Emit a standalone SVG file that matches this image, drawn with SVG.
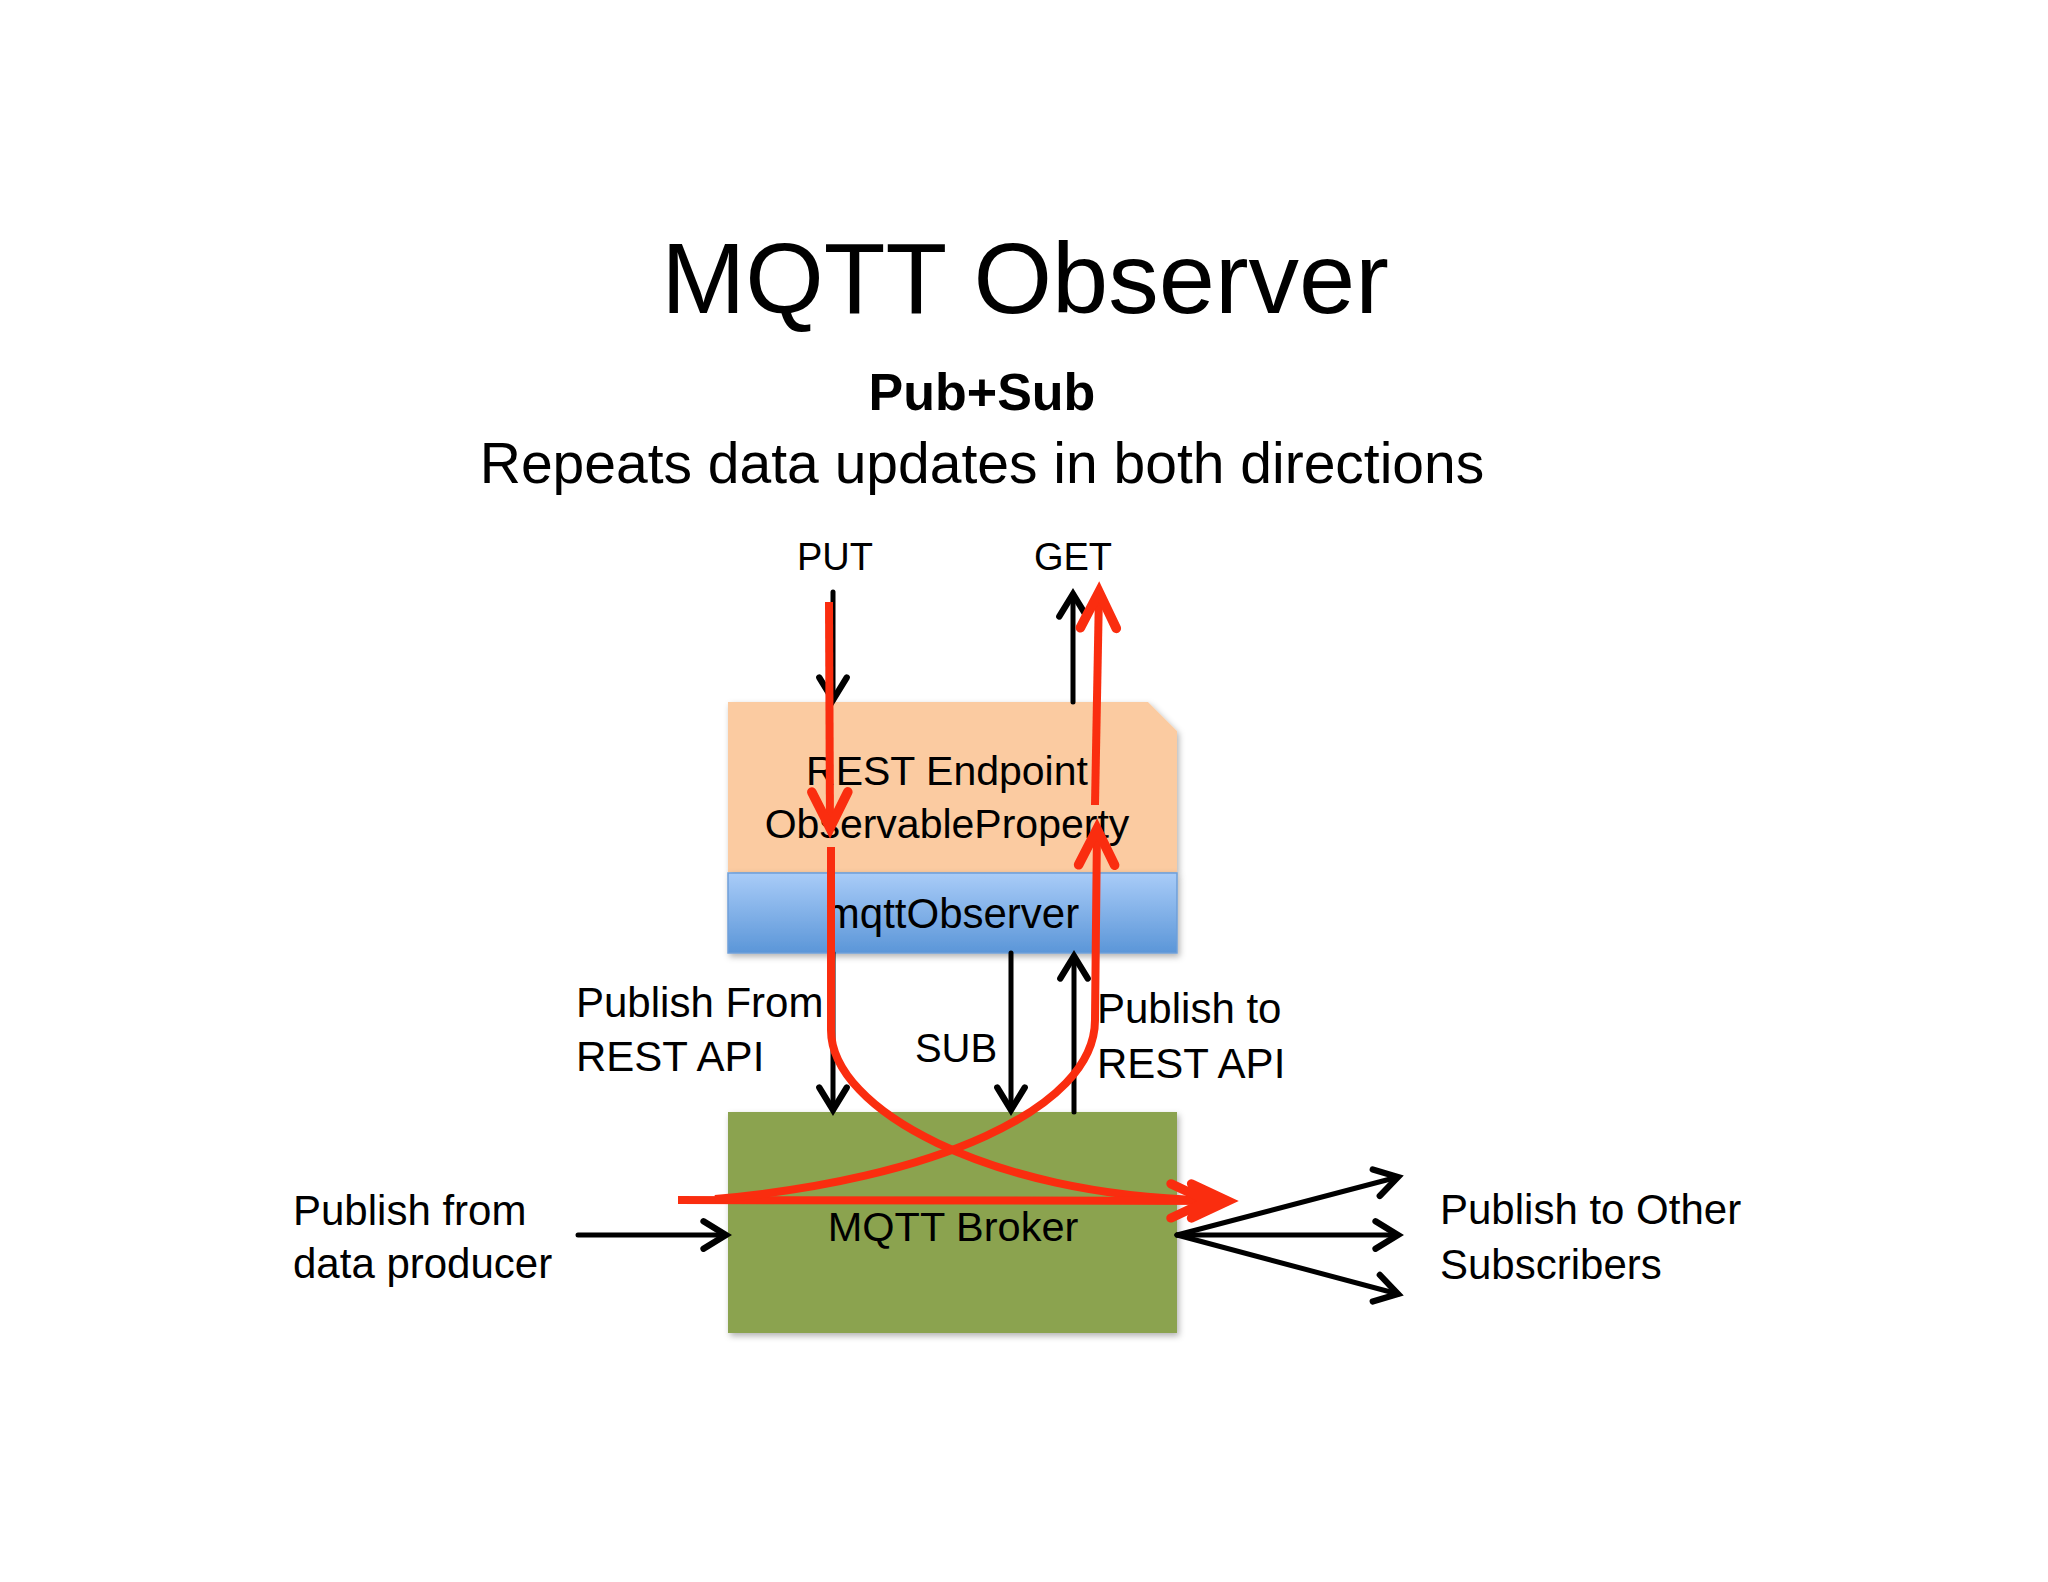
<svg xmlns="http://www.w3.org/2000/svg" width="2048" height="1582" viewBox="0 0 2048 1582">
<defs>
<style>
text{font-family:"Liberation Sans",Arial,sans-serif;fill:#000}
.blk{fill:none;stroke:#000;stroke-width:5;stroke-linecap:round}
.red{fill:none;stroke:#fa2d0f;stroke-width:8;stroke-linecap:butt;stroke-linejoin:round}
</style>
<linearGradient id="blueG" x1="0" y1="0" x2="0" y2="1">
<stop offset="0" stop-color="#a9ccf8"/>
<stop offset="1" stop-color="#5b96d8"/>
</linearGradient>
<filter id="sh" x="-10%" y="-10%" width="130%" height="130%">
<feDropShadow dx="2" dy="3" stdDeviation="3" flood-color="#000" flood-opacity="0.3"/>
</filter>
<marker id="ah" markerUnits="userSpaceOnUse" markerWidth="40" markerHeight="40" viewBox="-24 -16 30 32" refX="0" refY="0" orient="auto">
<path d="M-18,-11 L0,0 L-18,11" fill="none" stroke="#000" stroke-width="5" stroke-linecap="round" stroke-linejoin="miter"/>
</marker>
<marker id="rh" markerUnits="userSpaceOnUse" markerWidth="60" markerHeight="60" viewBox="-40 -25 50 50" refX="0" refY="0" orient="auto">
<path d="M-30,-15 L0,0 L-30,15" fill="none" stroke="#fa2d0f" stroke-width="8" stroke-linecap="round"/>
</marker>
<marker id="rh2" markerUnits="userSpaceOnUse" markerWidth="80" markerHeight="60" viewBox="-60 -25 70 50" refX="0" refY="0" orient="auto">
<path d="M-32,-15 L0,0 L-32,15 M-50,-15 L-18,0 L-50,15" fill="none" stroke="#fa2d0f" stroke-width="8" stroke-linecap="round"/>
</marker>
</defs>
<rect width="2048" height="1582" fill="#ffffff"/>

<g id="title">
<text x="1025" y="313" font-size="101" text-anchor="middle">MQTT Observer</text>
<text x="982" y="410" font-size="52" font-weight="bold" text-anchor="middle">Pub+Sub</text>
<text x="982" y="483" font-size="57" text-anchor="middle">Repeats data updates in both directions</text>
</g>

<g id="rest-endpoint">
<path d="M728,702 H1148 L1177,731 V872 H728 Z" fill="#fbcba1" filter="url(#sh)"/>
<text x="947" y="785" font-size="41" text-anchor="middle">REST Endpoint</text>
<text x="947" y="838" font-size="41" text-anchor="middle">ObservableProperty</text>
</g>

<g id="mqtt-observer">
<rect x="728" y="873" width="449" height="80" fill="url(#blueG)" stroke="#6f9fd9" stroke-width="1.5" filter="url(#sh)"/>
<text x="952" y="928" font-size="42" text-anchor="middle">mqttObserver</text>
</g>

<g id="mqtt-broker">
<rect x="728" y="1112" width="449" height="221" fill="#8ba34f" filter="url(#sh)"/>
<text x="953" y="1241" font-size="41.5" text-anchor="middle">MQTT Broker</text>
</g>

<g id="labels">
<text x="835" y="570" font-size="38" text-anchor="middle">PUT</text>
<text x="1073" y="570" font-size="38" text-anchor="middle">GET</text>
<text x="576" y="1017" font-size="42">Publish From</text>
<text x="576" y="1071" font-size="42">REST API</text>
<text x="956" y="1062" font-size="40" text-anchor="middle">SUB</text>
<text x="1097" y="1023" font-size="42">Publish to</text>
<text x="1097" y="1078" font-size="42">REST API</text>
<text x="293" y="1225" font-size="42">Publish from</text>
<text x="293" y="1278" font-size="42">data producer</text>
<text x="1440" y="1224" font-size="42">Publish to Other</text>
<text x="1440" y="1279" font-size="42">Subscribers</text>
</g>

<g id="connectors">
<line class="blk" x1="833" y1="592" x2="833" y2="700" marker-end="url(#ah)"/>
<line class="blk" x1="1073" y1="702" x2="1073" y2="594" marker-end="url(#ah)"/>
<line class="blk" x1="833" y1="953" x2="833" y2="1110" marker-end="url(#ah)"/>
<line class="blk" x1="1011" y1="953" x2="1011" y2="1110" marker-end="url(#ah)"/>
<line class="blk" x1="1074" y1="1112" x2="1074" y2="956" marker-end="url(#ah)"/>
<line class="blk" x1="578" y1="1235" x2="726" y2="1235" marker-end="url(#ah)"/>
<line class="blk" x1="1177" y1="1235" x2="1398" y2="1177" marker-end="url(#ah)"/>
<line class="blk" x1="1177" y1="1235" x2="1398" y2="1235" marker-end="url(#ah)"/>
<line class="blk" x1="1177" y1="1235" x2="1398" y2="1294" marker-end="url(#ah)"/>

<path class="red" d="M829,602 L830,828" marker-end="url(#rh)"/>
<path class="red" d="M831,847 V1030 C831,1110 990,1195 1205,1200"/>
<path class="red" d="M678,1200 L1228,1201" marker-end="url(#rh2)"/>
<path class="red" d="M715,1199 C930,1180 1095,1110 1095,1020 L1097,829" marker-end="url(#rh)"/>
<path class="red" d="M1095,805 L1099,592" marker-end="url(#rh)"/>
</g>
</svg>
